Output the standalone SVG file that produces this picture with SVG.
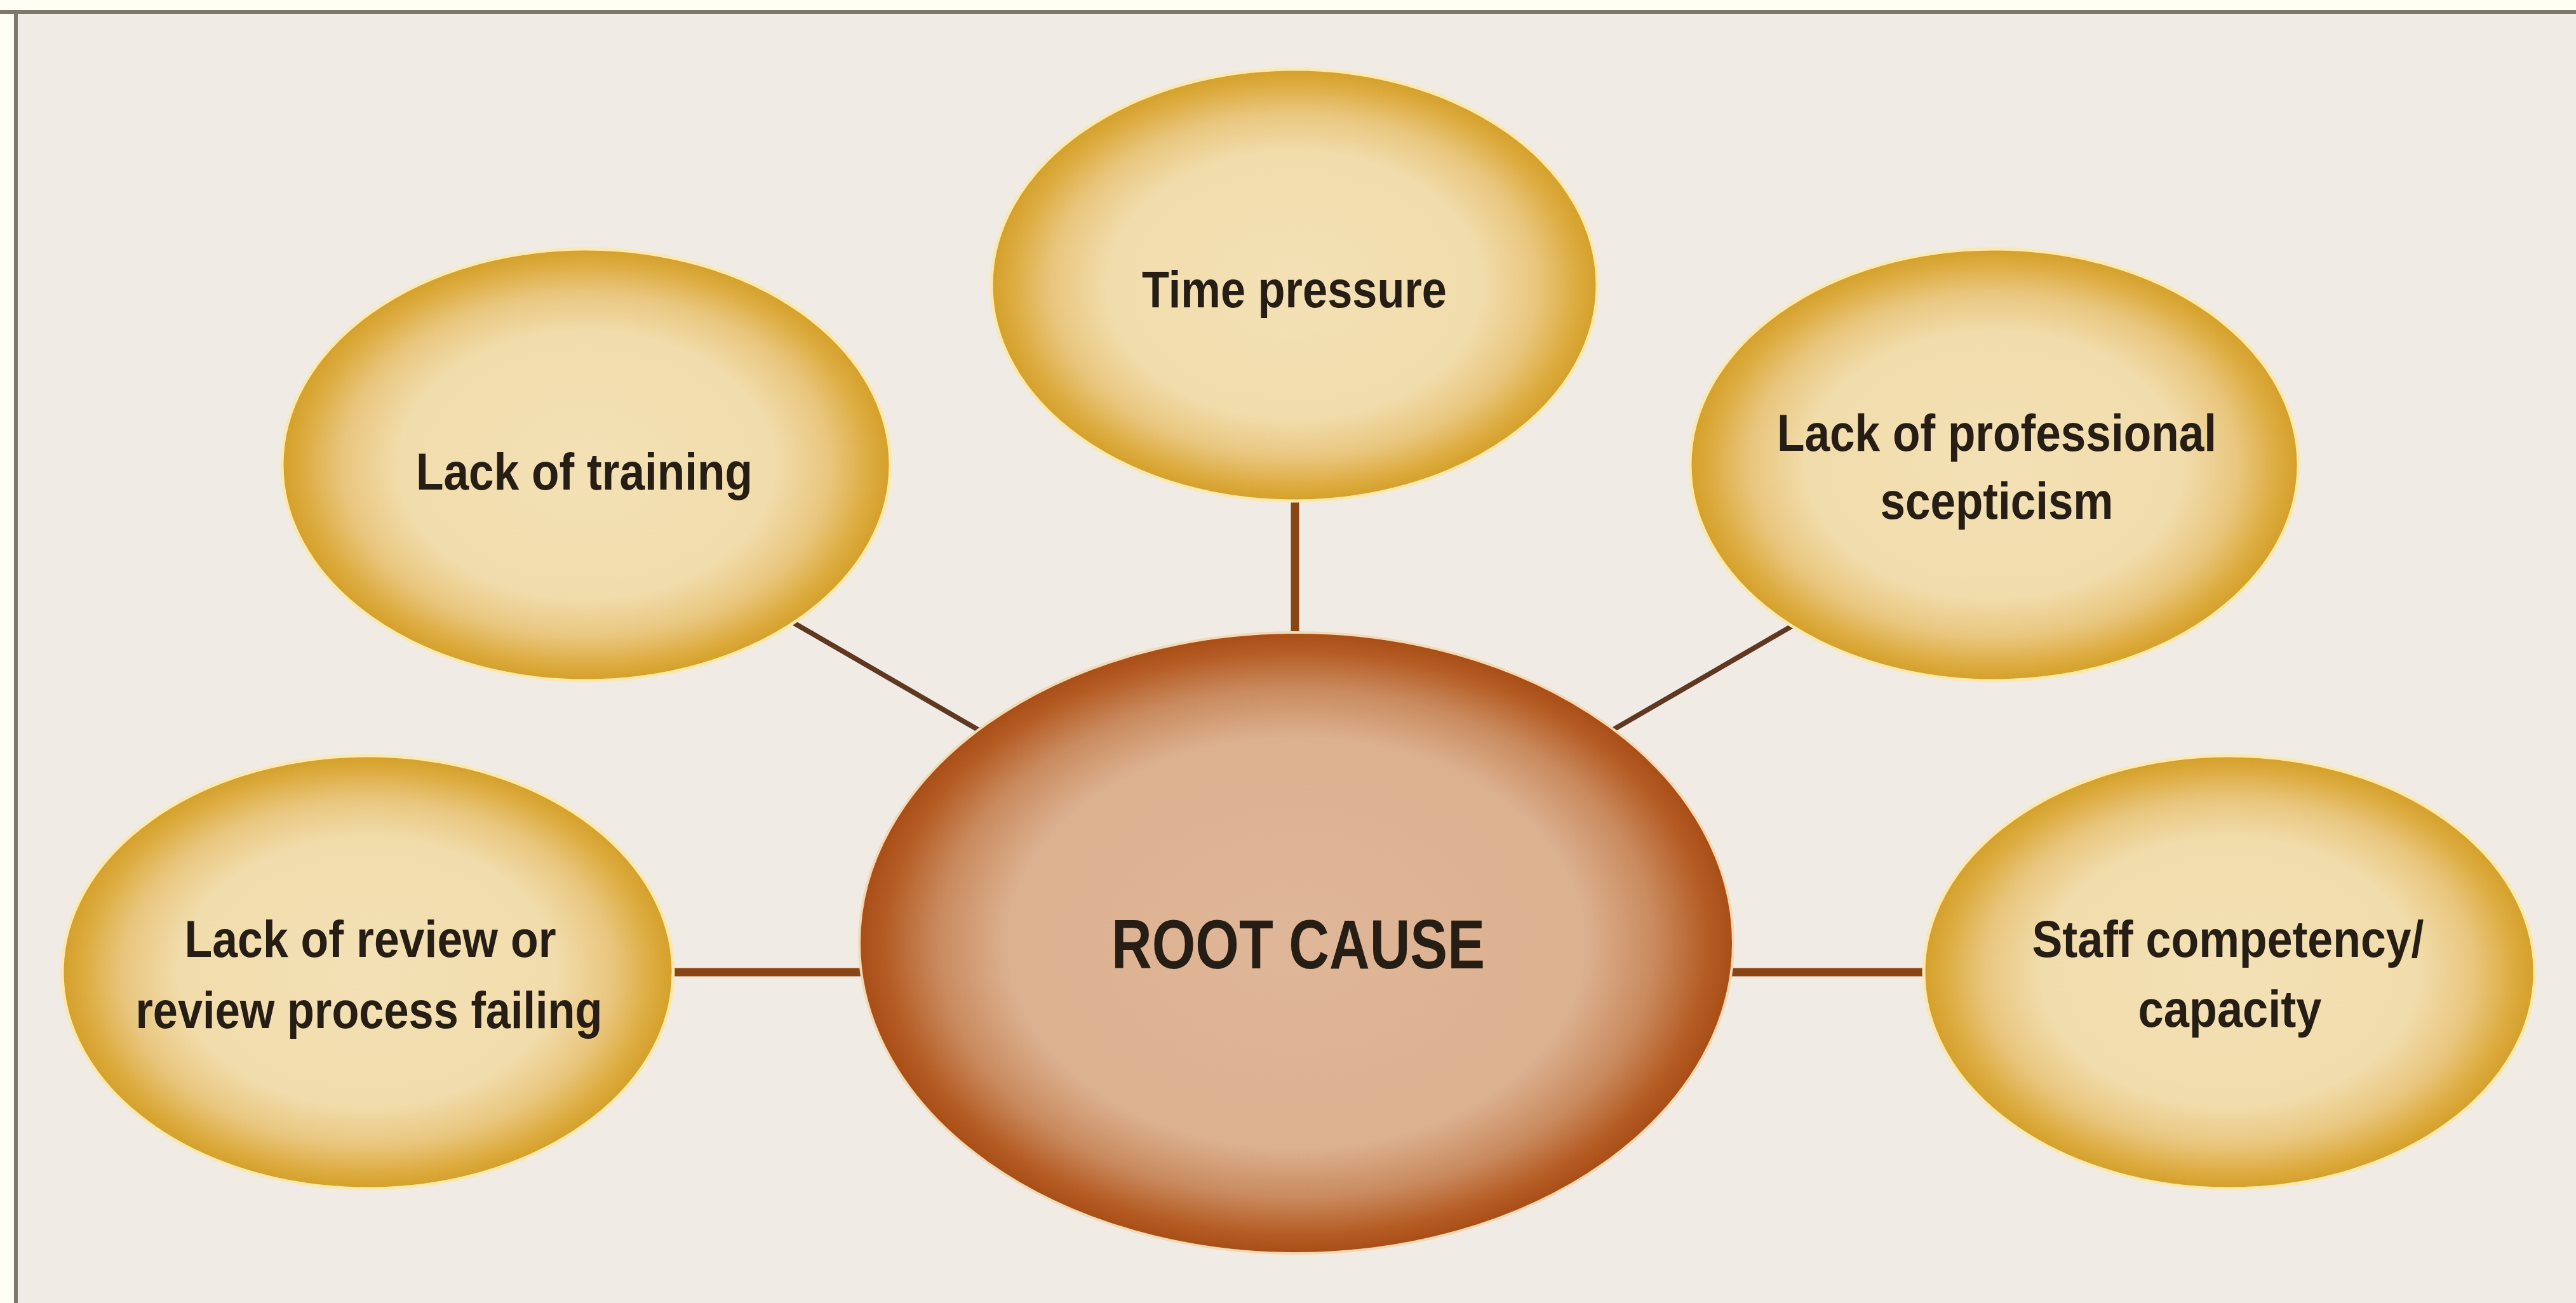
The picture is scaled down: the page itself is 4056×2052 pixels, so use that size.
<svg xmlns="http://www.w3.org/2000/svg" width="4056" height="2052" viewBox="0 0 4056 2052">
<defs>
<radialGradient id="gold" cx="50%" cy="50%" r="50%">
<stop offset="0" stop-color="#f3e1b6"/>
<stop offset="0.62" stop-color="#f1dcab"/>
<stop offset="0.8" stop-color="#e9c67e"/>
<stop offset="0.93" stop-color="#ddac40"/>
<stop offset="1" stop-color="#d4a02a"/>
</radialGradient>
<radialGradient id="rust" cx="50%" cy="50%" r="50%">
<stop offset="0" stop-color="#dfb698"/>
<stop offset="0.66" stop-color="#dcb190"/>
<stop offset="0.82" stop-color="#c98a5e"/>
<stop offset="0.94" stop-color="#b55c24"/>
<stop offset="1" stop-color="#a84d16"/>
</radialGradient>
</defs>
<style>
.gold{fill:url(#gold);stroke:#fbe9b0;stroke-width:5}
.root{fill:url(#rust);stroke:#f3d9b4;stroke-width:4}
.t{font-family:"Liberation Sans",Arial,sans-serif;font-weight:bold;font-size:82px;fill:#261d15;text-anchor:middle}
.rt{font-size:110px}
.c1{stroke:#8a4514;stroke-width:13;fill:none}
.c2{stroke:#603822;stroke-width:8;fill:none}
</style>
<rect x="0" y="0" width="4056" height="2052" fill="#fffef4"/>
<rect x="25" y="19" width="4031" height="2033" fill="#f0ebe4"/>
<line x1="0" y1="19" x2="4056" y2="19" stroke="#7d776c" stroke-width="6"/>
<line x1="25" y1="16" x2="25" y2="2052" stroke="#7d776c" stroke-width="6"/>
<g id="connectors">
<line class="c1" x1="2039" y1="760" x2="2039" y2="1020"/>
<line class="c1" x1="1020" y1="1531" x2="1390" y2="1531"/>
<line class="c1" x1="2700" y1="1531" x2="3060" y2="1531"/>
<line class="c2" x1="1200" y1="952" x2="1600" y2="1184"/>
<line class="c2" x1="2880" y1="952" x2="2480" y2="1184"/>
</g>
<g id="node-time">
<ellipse class="gold" cx="2038" cy="449" rx="477" ry="340"/>
<text class="t" x="2038" y="484" textLength="480" lengthAdjust="spacingAndGlyphs">Time pressure</text>
</g>
<g id="node-training">
<ellipse class="gold" cx="923" cy="732" rx="479" ry="340"/>
<text class="t" x="920" y="771" textLength="530" lengthAdjust="spacingAndGlyphs">Lack of training</text>
</g>
<g id="node-scepticism">
<ellipse class="gold" cx="3140" cy="732" rx="479" ry="340"/>
<text class="t" x="3144" y="710" textLength="692" lengthAdjust="spacingAndGlyphs">Lack of professional</text>
<text class="t" x="3144" y="817" textLength="367" lengthAdjust="spacingAndGlyphs">scepticism</text>
</g>
<g id="node-review">
<ellipse class="gold" cx="579" cy="1531" rx="481" ry="341"/>
<text class="t" x="583" y="1507" textLength="585" lengthAdjust="spacingAndGlyphs">Lack of review or</text>
<text class="t" x="581" y="1619" textLength="735" lengthAdjust="spacingAndGlyphs">review process failing</text>
</g>
<g id="node-staff">
<ellipse class="gold" cx="3510" cy="1531" rx="481" ry="341"/>
<text class="t" x="3508" y="1507" textLength="617" lengthAdjust="spacingAndGlyphs">Staff competency/</text>
<text class="t" x="3511" y="1617" textLength="289" lengthAdjust="spacingAndGlyphs">capacity</text>
</g>
<g id="node-root">
<ellipse class="root" cx="2041" cy="1485" rx="688" ry="489"/>
<text class="t rt" x="2044" y="1525" textLength="588" lengthAdjust="spacingAndGlyphs">ROOT CAUSE</text>
</g>
</svg>
